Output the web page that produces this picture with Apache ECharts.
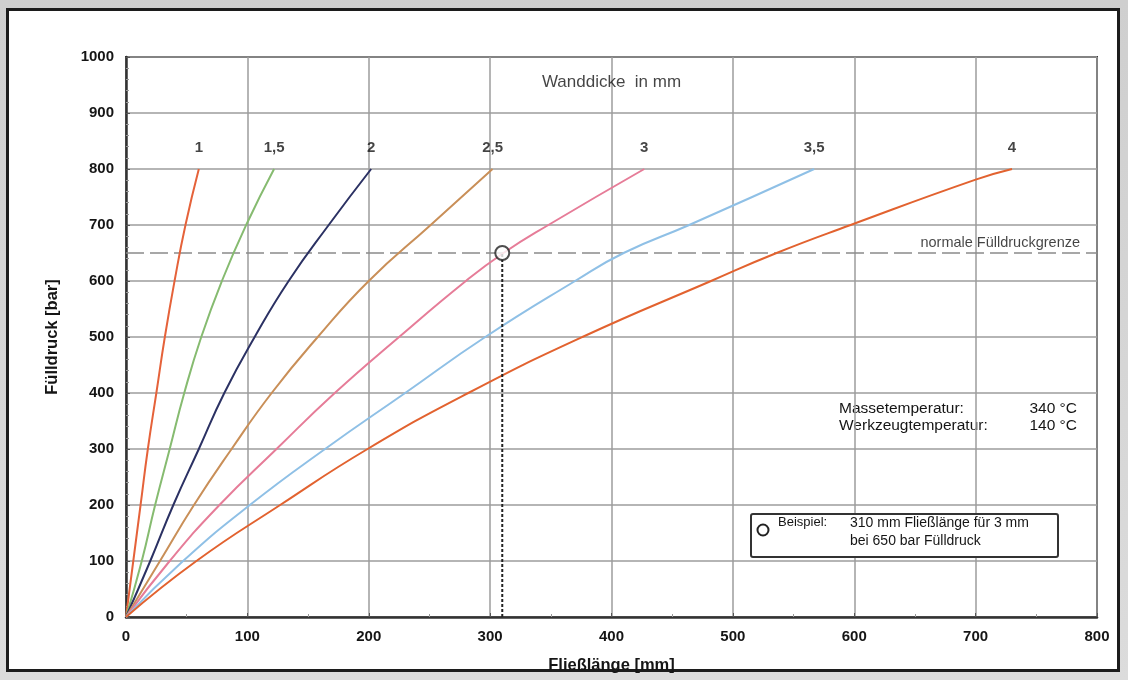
<!DOCTYPE html>
<html>
<head>
<meta charset="utf-8">
<script src="https://cdn.jsdelivr.net/npm/echarts@6/dist/echarts.min.js"></script>
<style>
  html, body { margin: 0; padding: 0; }
  body { width: 1128px; height: 680px; background: linear-gradient(#cfcfcf, #dcdcdc); position: relative; overflow: hidden; }
  #panel { position: absolute; left: 6px; top: 8px; width: 1114px; height: 664px; box-sizing: border-box; border: 3px solid #1c1c1c; background: #fff; }
  #chart { position: absolute; left: 0; top: 0; width: 1128px; height: 680px; }
</style>
</head>
<body>
<div id="panel"></div>
<div id="chart"></div>
<script>
// ---- Data ----
const thicknessLabels = ['1', '1,5', '2', '2,5', '3', '3,5', '4'];
const curve1  = [[0,0],[6,100],[12,200],[18,300],[25,400],[32,500],[40,600],[49,700],[60,800]];
const curve15 = [[0,0],[13,100],[24,200],[36,300],[48,400],[62,500],[79,600],[99,700],[122,800]];
const curve2  = [[0,0],[20,100],[39,200],[60,300],[81,400],[106,500],[134,600],[167,700],[202,800]];
const curve25 = [[0,0],[28,100],[56,200],[87,300],[120,400],[158,500],[200,600],[251,700],[302,800]];
const curve3  = [[0,0],[36,100],[77,200],[124,300],[172,400],[225,500],[280,600],[311,650],[348,700],[427,800]];
const curve35 = [[0,0],[47,100],[102,200],[164,300],[230,400],[296,500],[370,600],[410,650],[464,700],[567,800]];
const curve4  = [[0,0],[58,100],[127,200],[199,300],[282,400],[376,500],[482,600],[536,650],[597,700],[700,781],[730,800]];
const curves = [curve1, curve15, curve2, curve25, curve3, curve35, curve4];
const curveColors = ['#e5623a', '#86bb70', '#2b3163', '#c98f58', '#e67c98', '#8fc0e6', '#e2622f'];

const xTicks = [0, 100, 200, 300, 400, 500, 600, 700, 800];
const yTicks = [0, 100, 200, 300, 400, 500, 600, 700, 800, 900, 1000];
const pressureLimit = 650;           // normale Fülldruckgrenze
const examplePoint = [310, 650];     // Beispiel: 310 mm bei 650 bar, 3 mm

const FONT = 'Liberation Sans, Arial, sans-serif';
const INK = '#151515';

const chart = echarts.init(document.getElementById('chart'), null, { renderer: 'canvas' });

const series = [];
curves.forEach((c, i) => {
  series.push({
    type: 'line', name: thicknessLabels[i], data: c, smooth: 0.5,
    showSymbol: false, z: 3,
    lineStyle: { color: curveColors[i], width: 2 }
  });
});

// thickness labels above curve ends
series.push({
  type: 'scatter', symbolSize: 0, silent: true, z: 5,
  data: curves.map((c, i) => ({ value: [c[c.length - 1][0], 838], name: thicknessLabels[i] })),
  label: { show: true, position: 'inside', formatter: p => p.name,
           fontFamily: FONT, fontWeight: 'bold', fontSize: 15, color: INK }
});

// normal pressure limit dashed line
series.push({
  type: 'line', data: [[xTicks[0], pressureLimit], [xTicks[xTicks.length - 1], pressureLimit]],
  showSymbol: false, silent: true, z: 2,
  lineStyle: { color: '#8a8a8a', width: 1.5, type: [18, 6] }
});

// dotted vertical example line
series.push({
  type: 'line', data: [[examplePoint[0], 0], examplePoint],
  showSymbol: false, silent: true, z: 4,
  lineStyle: { color: '#222', width: 2, type: [3, 2] }
});

// example circle
series.push({
  type: 'scatter', data: [examplePoint], symbol: 'circle', symbolSize: 14, z: 6,
  itemStyle: { color: '#fff', borderColor: '#222', borderWidth: 2 }
});

// annotations anchored to data coordinates
series.push({
  type: 'scatter', symbolSize: 0, silent: true, z: 5,
  data: [
    { value: [400, 955], label: { formatter: 'Wanddicke  in mm', fontSize: 17, align: 'center' } },
    { value: [786, 668], label: { formatter: 'normale Fülldruckgrenze', fontSize: 14.5, align: 'right' } }
  ],
  label: { show: true, position: 'inside', fontFamily: FONT, color: INK }
});

const option = {
  animation: false,
  backgroundColor: 'transparent',
  grid: { left: 126, right: 31, top: 57, bottom: 63, show: true, borderColor: '#3a3a3a', borderWidth: 2 },
  xAxis: {
    type: 'value', min: xTicks[0], max: xTicks[xTicks.length - 1], interval: 100,
    name: 'Fließlänge [mm]', nameLocation: 'middle', nameGap: 40,
    nameTextStyle: { fontFamily: FONT, fontWeight: 'bold', fontSize: 16.5, color: INK },
    axisLine: { show: true, onZero: false, lineStyle: { color: '#333', width: 2.5 } },
    axisTick: { show: true, inside: true, length: 4, lineStyle: { color: '#555' } },
    minorTick: { show: true, splitNumber: 2, length: 3, lineStyle: { color: '#999' } },
    axisLabel: { fontFamily: FONT, fontWeight: 'bold', fontSize: 15, color: INK, margin: 12 },
    splitLine: { show: true, lineStyle: { color: '#9c9c9c', width: 1.5 } }
  },
  yAxis: {
    type: 'value', min: yTicks[0], max: yTicks[yTicks.length - 1], interval: 100,
    name: 'Fülldruck [bar]', nameLocation: 'middle', nameGap: 65,
    nameTextStyle: { fontFamily: FONT, fontWeight: 'bold', fontSize: 16.5, color: INK },
    axisLine: { show: true, onZero: false, lineStyle: { color: '#333', width: 2.5 } },
    axisTick: { show: true, inside: true, length: 4, lineStyle: { color: '#555' } },
    minorTick: { show: true, splitNumber: 5, length: 3, lineStyle: { color: '#999' } },
    axisLabel: { fontFamily: FONT, fontWeight: 'bold', fontSize: 15, color: INK, margin: 12,
                 formatter: v => String(v) },
    splitLine: { show: true, lineStyle: { color: '#9c9c9c', width: 1.5 } }
  },
  graphic: [
    // temperature notes
    { type: 'text', left: 839, top: 401, style: { text: 'Massetemperatur:', font: '15.5px ' + FONT, fill: INK } },
    { type: 'text', left: 839, top: 418, style: { text: 'Werkzeugtemperatur:', font: '15.5px ' + FONT, fill: INK } },
    { type: 'text', right: 51, top: 401, style: { text: '340 °C', font: '15.5px ' + FONT, fill: INK } },
    { type: 'text', right: 51, top: 418, style: { text: '140 °C', font: '15.5px ' + FONT, fill: INK } },
    // example legend box
    { type: 'rect', shape: { x: 751, y: 514, width: 307, height: 43, r: 2 }, z: 10,
      style: { fill: '#fff', stroke: '#333', lineWidth: 2 } },
    { type: 'circle', shape: { cx: 763, cy: 530, r: 5.5 }, z: 11,
      style: { fill: '#fff', stroke: '#222', lineWidth: 2 } },
    { type: 'text', left: 778, top: 516, z: 11, style: { text: 'Beispiel:', font: '13px ' + FONT, fill: INK } },
    { type: 'text', left: 850, top: 516, z: 11, style: { text: '310 mm Fließlänge für 3 mm', font: '14px ' + FONT, fill: INK } },
    { type: 'text', left: 850, top: 534, z: 11, style: { text: 'bei 650 bar Fülldruck', font: '14px ' + FONT, fill: INK } }
  ],
  series: series
};
chart.setOption(option);
</script>
</body>
</html>
